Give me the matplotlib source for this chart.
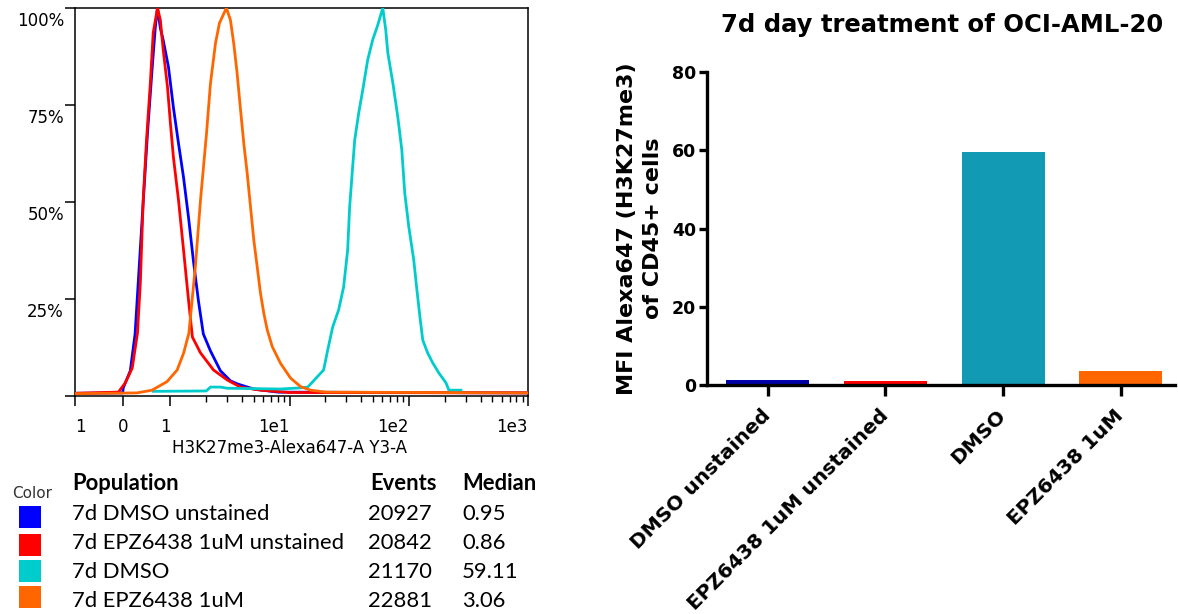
import numpy as np
import matplotlib
matplotlib.use("Agg")
import matplotlib.pyplot as plt
from matplotlib.patches import Rectangle
from matplotlib.transforms import ScaledTranslation

# ---------------- data ----------------
# Histogram curves (x = fluorescence value, y = % of max)
blue_x = [-1.0, 0.0, 0.012, 0.16, 0.26, 0.41, 0.52, 0.62, 0.685, 0.73, 0.79, 0.85, 0.96, 1.06, 1.17,
          1.29, 1.42, 1.56, 1.72, 1.89, 2.17, 2.63, 3.19, 3.66, 5.0, 8.0, 1000]
blue_y = [0.7, 0.8, 2.1, 6.5, 16.0, 46.0, 67.7, 84.8, 95.1, 100, 94.8, 91.7, 84.8, 74.4, 65.1,
          56.3, 46.0, 34.9, 24.5, 16.0, 11.6, 6.5, 3.9, 3.1, 1.8, 1.0, 0.8]

red_x = [-1.0, -0.09, 0.055, 0.20, 0.31, 0.37, 0.43, 0.50, 0.58, 0.64, 0.73, 0.79, 0.85, 0.94, 1.0,
         1.06, 1.17, 1.29, 1.42, 1.53, 1.79, 2.30, 3.01, 3.87, 5.7, 10, 1000]
red_y = [0.7, 1.0, 3.4, 7.2, 16.2, 29.1, 50.5, 66.0, 80.7, 93.6, 100, 96.9, 89.2, 79.6, 70.4,
         61.6, 50.5, 37.6, 24.7, 15.2, 11.1, 6.7, 4.1, 2.3, 1.5, 0.9, 0.8]

orange_x = [-1.0, 0.3, 0.615, 0.93, 1.14, 1.29, 1.43, 1.62, 1.79, 2.01, 2.17, 2.39, 2.58, 2.95, 3.19,
            3.40, 3.63, 3.88, 4.13, 4.41, 4.70, 5.01, 5.35, 5.70, 6.08, 6.50, 7.16, 8.40, 10.2, 12.4,
            15.0, 20, 1000]
orange_y = [0.6, 0.8, 1.5, 3.7, 6.7, 11.0, 16.2, 33.3, 50.5, 67.7, 80.6, 90.9, 96.1, 100, 96.9,
            90.9, 83.2, 73.7, 65.1, 57.4, 48.8, 40.2, 33.3, 26.5, 21.3, 17.0, 12.7, 8.4, 4.6, 2.4,
            1.5, 1.0, 0.8]

cyan_x = [0.64, 2.0, 2.17, 2.63, 3.0, 8.4, 12.4, 14.2, 19.3, 20.9, 23.0, 25.8, 28.4, 30.7, 31.9,
          33.8, 35.2, 38.0, 41.1, 45.2, 49.8, 54.9, 60.5, 64.1, 66.7, 73.5, 80.9, 87.4, 92.5, 100,
          110, 117, 124, 131, 144, 159, 179, 205, 217, 274]
cyan_y = [1.2, 1.3, 2.3, 2.3, 2.0, 1.8, 2.1, 2.3, 6.7, 11.9, 17.8, 22.2, 28.1, 37.6, 48.7,
          59.0, 66.0, 72.9, 78.9, 86.6, 91.8, 95.6, 100, 94.3, 88.4, 80.7, 71.9, 63.4, 52.3, 43.6,
          35.1, 27.3, 20.4, 14.4, 11.1, 8.5, 5.9, 3.4, 1.5, 1.5]

hist_xticks = [-1, 0, 1, 10, 100, 1000]
hist_xticklabels = ["1", "0", "1", "1e1", "1e2", "1e3"]
hist_yticks = [0, 25, 50, 75, 100]
hist_yticklabels = ["", "25%", "50%", "75%", "100%"]

# Legend table
populations = ["7d DMSO unstained", "7d EPZ6438 1uM unstained", "7d DMSO", "7d EPZ6438 1uM"]
events = ["20927", "20842", "21170", "22881"]
medians = ["0.95", "0.86", "59.11", "3.06"]
pop_colors = ["#0000FF", "#FF0000", "#00CCCC", "#FF6600"]

# Bar chart
bar_categories = ["DMSO unstained", "EPZ6438 1uM unstained", "DMSO", "EPZ6438 1uM"]
bar_values = [1.3, 1.1, 59.6, 3.5]
bar_colors = ["#0000A8", "#FF0000", "#1299B4", "#FF6600"]
bar_yticks = [0, 20, 40, 60, 80]

# ---------------- figure ----------------
W, H = 1178, 614
fig = plt.figure(figsize=(W / 100, H / 100), dpi=100)


def fx(px):
    return px / W


def fy(py):
    return 1 - py / H


# ---- histogram axes (biexponential-like scale) ----
A = 0.40


def fwd(x):
    x = np.asarray(x, dtype=float)
    return np.where(x >= 1, np.log10(np.maximum(x, 1.0)), A * (x - 1.0))


def inv(u):
    u = np.asarray(u, dtype=float)
    return np.where(u >= 0, np.power(10.0, np.clip(u, -20, 20)), 1.0 + u / A)


ax1 = fig.add_axes([fx(75), fy(396), (528 - 75) / W, (396 - 8) / H])
ax1.set_xscale("function", functions=(fwd, inv))
ax1.set_xlim(-1, 1000)
ax1.set_ylim(0, 100)

lw = 2.0
ax1.plot(blue_x, blue_y, color="#0000FF", lw=lw, zorder=3)
ax1.plot(red_x, red_y, color="#FF0000", lw=lw, zorder=4)
ax1.plot(cyan_x, cyan_y, color="#00CCCC", lw=lw, zorder=5)
ax1.plot(orange_x, orange_y, color="#FF6600", lw=lw, zorder=6)

for s in ax1.spines.values():
    s.set_linewidth(1.1)
ax1.set_xticks(hist_xticks)
minor = [m * 10 ** d for d in range(0, 3) for m in range(2, 10)]
ax1.set_xticks(minor, minor=True)
ax1.set_xticklabels(hist_xticklabels, fontsize=12, family="DejaVu Sans")
ax1.tick_params(axis="x", which="major", direction="out", length=7, width=1.1, pad=9)
ax1.tick_params(axis="x", which="minor", direction="out", length=4, width=1.0)
has = ["left", "center", "right", "right", "right", "right"]
for lab, ha in zip(ax1.get_xticklabels(), has):
    lab.set_ha(ha)
ax1.set_yticks(hist_yticks)
ax1.set_yticklabels(hist_yticklabels, fontsize=12, family="DejaVu Sans")
ax1.tick_params(axis="y", direction="out", length=7, width=1.1, pad=1)
off = ScaledTranslation(0, -11 / 100, fig.dpi_scale_trans)
for lab in ax1.get_yticklabels():
    lab.set_transform(lab.get_transform() + off)
ax1.set_xlabel("H3K27me3-Alexa647-A Y3-A", fontsize=12, family="DejaVu Sans", va="center")
ax1.xaxis.set_label_coords((290 - 75) / 453, -(448 - 396) / 388)

# ---- legend table ----
fig.text(fx(32), fy(494), "Color", fontsize=11, color="#333333", ha="center", va="center",
         family="DejaVu Sans")
tfont = dict(family="Lato", fontsize=15.8)
fig.text(fx(72), fy(483), "Population", fontweight="bold", va="center", **tfont)
fig.text(fx(370), fy(483), "Events", fontweight="bold", va="center", **tfont)
fig.text(fx(462), fy(483), "Median", fontweight="bold", va="center", **tfont)
row_y = [514, 543, 572, 601]
sq_y = [517, 545, 571, 597]
for i in range(4):
    fig.text(fx(72), fy(row_y[i]), populations[i], va="center", **tfont)
    fig.text(fx(368), fy(row_y[i]), events[i], va="center", **tfont)
    fig.text(fx(462), fy(row_y[i]), medians[i], va="center", **tfont)
    fig.patches.append(Rectangle((fx(19), fy(sq_y[i] + 11)), 22 / W, 22 / H,
                                 transform=fig.transFigure, facecolor=pop_colors[i],
                                 edgecolor="none"))

# ---- bar chart ----
ax2 = fig.add_axes([fx(707), fy(385), (1175 - 707) / W, (385 - 72) / H])
xpos = np.arange(len(bar_values))
ax2.bar(xpos, bar_values, width=0.705, color=bar_colors, edgecolor="none", zorder=2)
ax2.set_xlim(-0.515, 3.46)
ax2.set_ylim(0, 80)
for side in ["top", "right"]:
    ax2.spines[side].set_visible(False)
for side in ["left", "bottom"]:
    ax2.spines[side].set_linewidth(2.4)
ax2.set_yticks(bar_yticks)
ax2.set_yticklabels([str(v) for v in bar_yticks], fontsize=12.5, fontweight="bold",
                    family="DejaVu Sans")
ax2.tick_params(axis="y", direction="out", length=6, width=2.4, pad=2)
ax2.set_xticks(xpos)
ax2.set_xticklabels(bar_categories, rotation=45, ha="right", va="center",
                    rotation_mode="anchor", fontsize=14.5, fontweight="bold",
                    family="DejaVu Sans")
ax2.tick_params(axis="x", direction="out", length=8, width=2.4, pad=12)
ax2.set_ylabel("MFI Alexa647 (H3K27me3)\nof CD45+ cells", fontsize=16, fontweight="bold",
               family="DejaVu Sans", linespacing=1.4, labelpad=6)
fig.text(fx(942), fy(25), "7d day treatment of OCI-AML-20", fontsize=17.5, fontweight="bold",
         family="DejaVu Sans", ha="center", va="center")

fig.savefig("out.png", dpi=100)
